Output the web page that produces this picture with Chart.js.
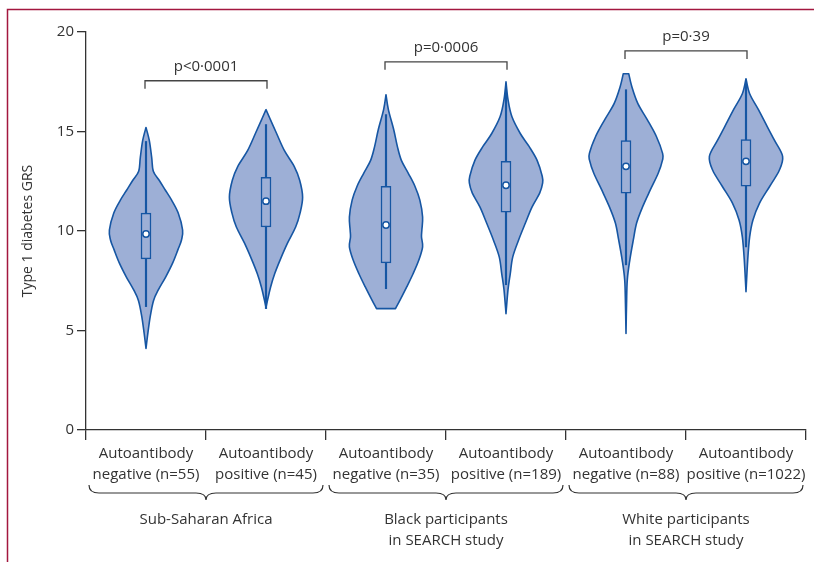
<!DOCTYPE html>
<html>
<head>
<meta charset="utf-8">
<script src="https://cdn.jsdelivr.net/npm/chart.js@4.4.1/dist/chart.umd.min.js"></script>
<style>
html, body { margin: 0; padding: 0; background: #fff; }
#wrap { position: relative; width: 814px; height: 562px; }
</style>
</head>
<body>
<div id="wrap"><canvas id="grsChart"></canvas></div>
<script>
const categories = [
    ['Autoantibody', 'negative (n=55)'],
    ['Autoantibody', 'positive (n=45)'],
    ['Autoantibody', 'negative (n=35)'],
    ['Autoantibody', 'positive (n=189)'],
    ['Autoantibody', 'negative (n=88)'],
    ['Autoantibody', 'positive (n=1022)']
];
const groups = [
    ['Sub-Saharan Africa'],
    ['Black participants', 'in SEARCH study'],
    ['White participants', 'in SEARCH study']
];
const pValues = ['p<0·0001', 'p=0·0006', 'p=0·39'];
const yTickValues = [0, 5, 10, 15, 20];

// violin outlines: GRS value and relative density (widest = 1)
const violinGRS = [
    [4.1, 4.85, 5.7, 6.5, 7.05, 7.7, 8.4, 9.05, 9.55, 10.05, 10.9, 11.55, 12.05, 12.55, 13.0, 13.7, 14.55, 15.2],
    [6.15, 6.55, 7.2, 7.85, 8.55, 9.4, 10.2, 10.9, 11.7, 12.55, 13.25, 14.05, 14.9, 15.6, 16.1],
    [6.1, 6.55, 7.2, 7.85, 8.55, 9.2, 9.7, 10.05, 10.7, 11.55, 12.25, 12.9, 13.55, 14.25, 15.1, 16.1, 16.85],
    [5.85, 7.05, 7.85, 8.7, 9.55, 10.4, 11.2, 11.9, 12.4, 12.75, 13.55, 14.25, 14.9, 15.75, 16.6, 17.5],
    [4.85, 6.35, 7.55, 8.55, 9.55, 10.4, 11.2, 12.05, 12.9, 13.55, 13.9, 14.75, 15.6, 16.4, 17.25, 17.9],
    [6.95, 8.55, 9.7, 10.55, 11.4, 12.25, 13.05, 13.75, 14.55, 15.25, 16.1, 16.9, 17.65]
];
const violinDensity = [
    [0, 0.05, 0.115, 0.205, 0.34, 0.54, 0.73, 0.87, 0.97, 1.0, 0.88, 0.70, 0.53, 0.36, 0.2, 0.155, 0.09, 0],
    [0, 0.046, 0.128, 0.237, 0.387, 0.59, 0.81, 0.93, 1.0, 0.92, 0.77, 0.50, 0.29, 0.12, 0],
    [0.26, 0.39, 0.57, 0.74, 0.90, 1.0, 0.97, 0.98, 1.0, 0.925, 0.79, 0.61, 0.42, 0.31, 0.21, 0.065, 0],
    [0, 0.055, 0.116, 0.185, 0.345, 0.53, 0.71, 0.92, 1.0, 0.99, 0.85, 0.63, 0.39, 0.16, 0.055, 0],
    [0, 0.015, 0.036, 0.105, 0.2, 0.29, 0.45, 0.66, 0.88, 0.995, 1.0, 0.83, 0.58, 0.325, 0.16, 0.075],
    [0, 0.047, 0.10, 0.19, 0.37, 0.65, 0.91, 1.0, 0.78, 0.58, 0.34, 0.10, 0]
];
const q1 = [8.6, 10.2, 8.4, 10.95, 11.9, 12.25];
const q3 = [10.9, 12.7, 12.25, 13.5, 14.55, 14.6];
const medians = [9.85, 11.5, 10.3, 12.3, 13.25, 13.5];
const whiskerLow = [6.2, 6.1, 7.1, 7.3, 8.3, 9.2];
const whiskerHigh = [14.5, 15.35, 15.85, 17.1, 17.1, 17.5];
// comparison brackets: pair of categories and bracket height (GRS units)
const bracketPairs = [[0, 1], [2, 3], [4, 5]];
const bracketLevels = [17.55, 18.5, 19.05];

const FONT = "'Open Sans', sans-serif";
const TEXT = '#333333';
const BLUE = '#1656a3';
const FILL = '#9dafd6';

function smoothPath(ctx, pts, first) {
    for (let i = 0; i < pts.length - 1; i++) {
        const p0 = pts[i - 1] || pts[i];
        const p1 = pts[i];
        const p2 = pts[i + 1];
        const p3 = pts[i + 2] || p2;
        if (i === 0) {
            if (first) ctx.moveTo(p1[0], p1[1]); else ctx.lineTo(p1[0], p1[1]);
        }
        ctx.bezierCurveTo(
            p1[0] + (p2[0] - p0[0]) / 6, p1[1] + (p2[1] - p0[1]) / 6,
            p2[0] - (p3[0] - p1[0]) / 6, p2[1] - (p3[1] - p1[1]) / 6,
            p2[0], p2[1]
        );
    }
}

const violinPlugin = {
    id: 'violins',
    beforeDatasetsDraw(chart) {
        const {ctx, scales: {x, y}} = chart;
        const halfBand = (x.getPixelForValue(1) - x.getPixelForValue(0)) / 2;
        const maxHalf = halfBand * 0.61;
        ctx.save();
        violinGRS.forEach((vals, i) => {
            const xc = x.getPixelForValue(i);
            const right = vals.map((v, k) => [xc + violinDensity[i][k] * maxHalf, y.getPixelForValue(v)]);
            const left = vals.map((v, k) => [xc - violinDensity[i][k] * maxHalf, y.getPixelForValue(v)]).reverse();
            ctx.beginPath();
            smoothPath(ctx, right, true);
            smoothPath(ctx, left, false);
            ctx.closePath();
            ctx.fillStyle = FILL;
            ctx.fill();
            ctx.lineWidth = 1.6;
            ctx.strokeStyle = BLUE;
            ctx.lineJoin = 'round';
            ctx.stroke();
        });
        ctx.restore();
    },
    afterDraw(chart) {
        const {ctx, chartArea, scales: {x, y}} = chart;
        const halfBand = (x.getPixelForValue(1) - x.getPixelForValue(0)) / 2;
        ctx.save();

        // frame
        ctx.strokeStyle = '#a3173f';
        ctx.lineWidth = 1.5;
        ctx.beginPath();
        ctx.moveTo(7.5, 562);
        ctx.lineTo(7.5, 9.5);
        ctx.lineTo(814, 9.5);
        ctx.stroke();

        // y title
        ctx.fillStyle = TEXT;
        ctx.font = '14px ' + FONT;
        ctx.textAlign = 'center';
        ctx.textBaseline = 'middle';
        ctx.save();
        ctx.translate(28, (chartArea.top + chartArea.bottom) / 2);
        ctx.rotate(-Math.PI / 2);
        ctx.fillText('Type 1 diabetes GRS', 0, 0);
        ctx.restore();

        // brackets with p values
        ctx.strokeStyle = '#444';
        ctx.lineWidth = 1.3;
        ctx.font = '15px ' + FONT;
        bracketPairs.forEach((pair, k) => {
            const xa = x.getPixelForValue(pair[0]) - 1;
            const xb = x.getPixelForValue(pair[1]) + 1;
            const yl = y.getPixelForValue(bracketLevels[k]);
            ctx.beginPath();
            ctx.moveTo(xa, yl + 8);
            ctx.lineTo(xa, yl);
            ctx.lineTo(xb, yl);
            ctx.lineTo(xb, yl + 8);
            ctx.stroke();
            ctx.fillText(pValues[k], (xa + xb) / 2, yl - 14);
        });

        // group braces
        ctx.strokeStyle = TEXT;
        ctx.lineWidth = 1.2;
        const base = chartArea.bottom;
        const top = base + 55, mid = base + 63, tip = base + 70;
        groups.forEach((lines, g) => {
            const x0 = x.getPixelForValue(2 * g) - halfBand + 3;
            const x1 = x.getPixelForValue(2 * g + 1) + halfBand - 3;
            const xm = (x0 + x1) / 2;
            ctx.beginPath();
            ctx.moveTo(x0, top);
            ctx.quadraticCurveTo(x0, mid, x0 + 10, mid);
            ctx.lineTo(xm - 10, mid);
            ctx.quadraticCurveTo(xm, mid, xm, tip);
            ctx.quadraticCurveTo(xm, mid, xm + 10, mid);
            ctx.lineTo(x1 - 10, mid);
            ctx.quadraticCurveTo(x1, mid, x1, top);
            ctx.stroke();
            lines.forEach((t, j) => {
                ctx.fillText(t, xm, base + 90 + j * 21);
            });
        });
        ctx.restore();
    }
};

const ctx = document.getElementById('grsChart').getContext('2d');
const grsChart = new Chart(ctx, {
    type: 'bar',
    data: {
        labels: categories,
        datasets: [
            {
                type: 'line',
                label: 'Median',
                data: medians,
                showLine: false,
                pointRadius: 3.2,
                pointBackgroundColor: '#ffffff',
                pointBorderColor: BLUE,
                pointBorderWidth: 1.5
            },
            {
                label: 'IQR',
                data: q1.map((v, i) => [v, q3[i]]),
                backgroundColor: FILL,
                borderColor: BLUE,
                borderWidth: 1.5,
                borderSkipped: false,
                barThickness: 10,
                grouped: false
            },
            {
                label: 'Range',
                data: whiskerLow.map((v, i) => [v, whiskerHigh[i]]),
                backgroundColor: BLUE,
                borderWidth: 0,
                barThickness: 1.5,
                grouped: false
            }
        ]
    },
    options: {
        responsive: true,
        maintainAspectRatio: false,
        animation: false,
        layout: { padding: { left: 0, right: 8, top: 32, bottom: 0 } },
        plugins: { legend: { display: false }, tooltip: { enabled: false } },
        scales: {
            x: {
                offset: true,
                grid: { offset: true, drawOnChartArea: false, drawTicks: true, tickLength: 10, color: '#333', lineWidth: 1.3 },
                border: { color: '#333', width: 1.3 },
                ticks: { color: TEXT, font: { family: FONT, size: 15, lineHeight: 1.4 }, padding: 3, maxRotation: 0, autoSkip: false },
                afterFit: s => { s.height = 132; }
            },
            y: {
                min: 0,
                max: 20,
                afterBuildTicks: s => { s.ticks = yTickValues.map(v => ({ value: v })); },
                ticks: { color: TEXT, font: { family: FONT, size: 15 }, padding: 3 },
                grid: { drawOnChartArea: false, tickLength: 9, color: '#333', lineWidth: 1.3 },
                border: { color: '#333', width: 1.3 },
                afterFit: s => { s.width = 86; }
            }
        }
    },
    plugins: [violinPlugin]
});
</script>
</body>
</html>
